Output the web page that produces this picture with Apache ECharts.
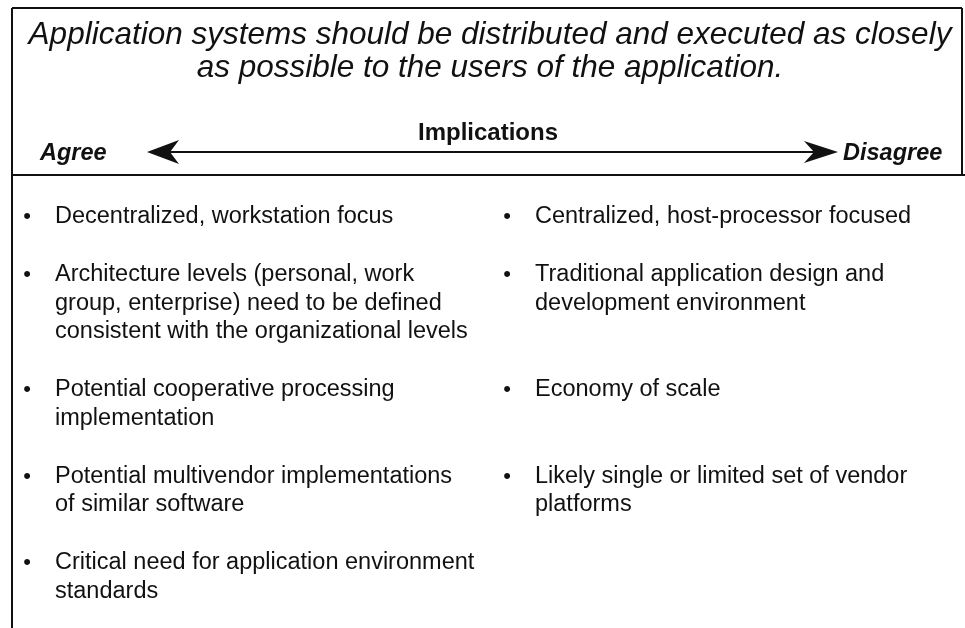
<!DOCTYPE html>
<html>
<head>
<meta charset="utf-8">
<script src="https://cdn.jsdelivr.net/npm/echarts@6/dist/echarts.min.js"></script>
<style>html,body{margin:0;padding:0;background:#fff;}#c{width:965px;height:628px;}</style>
</head>
<body>
<div id="c"></div>
<script>
// ---- content ----
const titleLines = [
  'Application systems should be distributed and executed as closely',
  'as possible to the users of the application.'
];
const axisTitle = 'Implications';
const leftPole = 'Agree';
const rightPole = 'Disagree';
const agreeItems = [
  ['Decentralized, workstation focus'],
  ['Architecture levels (personal, work', 'group, enterprise) need to be defined', 'consistent with the organizational levels'],
  ['Potential cooperative processing', 'implementation'],
  ['Potential multivendor implementations', 'of similar software'],
  ['Critical need for application environment', 'standards']
];
const disagreeItems = [
  ['Centralized, host-processor focused'],
  ['Traditional application design and', 'development environment'],
  ['Economy of scale'],
  ['Likely single or limited set of vendor', 'platforms'],
  []
];

// ---- layout ----
const FONT = '"Liberation Sans", Arial, Helvetica, sans-serif';
const L = { left: 12, right: 962, top: 8, sep: 175, bottom: 628,
  rowStart: 217, lineH: 28.5, gap: 58,
  colBullet: [27, 507], colText: [55, 535] };

const g = [];
// frame
const stroke = { stroke: '#111', lineWidth: 2 };
g.push({ type: 'line', shape: { x1: L.left, y1: L.top, x2: L.right, y2: L.top }, style: stroke });
g.push({ type: 'line', shape: { x1: L.left, y1: L.top, x2: L.left, y2: L.bottom }, style: stroke });
g.push({ type: 'line', shape: { x1: L.right, y1: L.top, x2: L.right, y2: L.sep }, style: stroke });
g.push({ type: 'line', shape: { x1: L.left, y1: L.sep, x2: 965, y2: L.sep }, style: stroke });

// title
titleLines.forEach((t, i) => {
  g.push({ type: 'text', style: { text: t, x: 490, y: 35 + i * 33, textAlign: 'center', textVerticalAlign: 'middle',
    font: 'italic 31.5px ' + FONT, fill: '#111' } });
});
// axis
g.push({ type: 'text', style: { text: axisTitle, x: 488, y: 133, textAlign: 'center', textVerticalAlign: 'middle',
  font: 'bold 24px ' + FONT, fill: '#111' } });
g.push({ type: 'text', style: { text: leftPole, x: 40, y: 154, textAlign: 'left', textVerticalAlign: 'middle',
  font: 'italic bold 23.5px ' + FONT, fill: '#111' } });
g.push({ type: 'text', style: { text: rightPole, x: 843, y: 154, textAlign: 'left', textVerticalAlign: 'middle',
  font: 'italic bold 23.5px ' + FONT, fill: '#111' } });
const ay = 152;
g.push({ type: 'line', shape: { x1: 170, y1: ay, x2: 815, y2: ay }, style: { stroke: '#111', lineWidth: 2 } });
g.push({ type: 'polygon', shape: { points: [[147, ay], [179, ay - 12], [170, ay], [179, ay + 12]] }, style: { fill: '#111' } });
g.push({ type: 'polygon', shape: { points: [[838, ay], [804, ay - 11], [814, ay], [804, ay + 11]] }, style: { fill: '#111' } });

// bullets
function drawCol(items, ci) {
  let y = L.rowStart;
  items.forEach((lines, ri) => {
    const rowLines = Math.max(agreeItems[ri].length, disagreeItems[ri].length);
    if (lines.length) {
      g.push({ type: 'text', style: { text: '•', x: L.colBullet[ci], y: y, textAlign: 'center', textVerticalAlign: 'middle',
        font: '22px ' + FONT, fill: '#111' } });
      lines.forEach((t, li) => {
        g.push({ type: 'text', style: { text: t, x: L.colText[ci], y: y + li * L.lineH, textAlign: 'left', textVerticalAlign: 'middle',
          font: '23.5px ' + FONT, fill: '#111' } });
      });
    }
    y += (rowLines - 1) * L.lineH + L.gap;
  });
}
drawCol(agreeItems, 0);
drawCol(disagreeItems, 1);

const chart = echarts.init(document.getElementById('c'));
chart.setOption({ backgroundColor: '#fff', animation: false, graphic: { elements: g } });
</script>
</body>
</html>
